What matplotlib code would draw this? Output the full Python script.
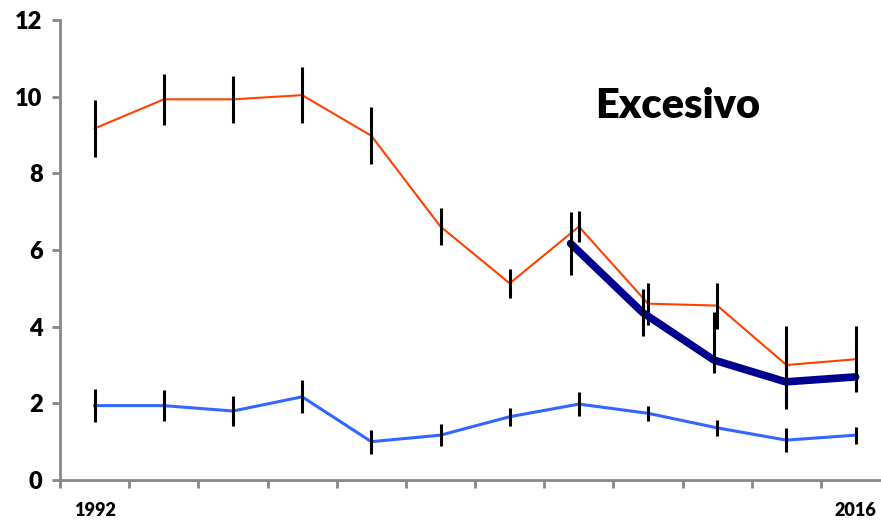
import numpy as np
import matplotlib.pyplot as plt
import matplotlib as mpl

mpl.rcParams['font.family'] = ['Lato', 'DejaVu Sans']

# Yearly series (12 survey points)
years = ['1992', '', '', '', '', '', '', '', '', '', '', '2016']

orange_vals = [9.17, 9.93, 9.93, 10.04, 8.98, 6.61, 5.13, 6.61, 4.60, 4.55, 3.00, 3.15]
orange_err = [0.74, 0.67, 0.62, 0.73, 0.74, 0.48, 0.38, 0.40, 0.55, 0.60, 1.02, 0.86]

blue_vals = [1.94, 1.94, 1.80, 2.17, 1.00, 1.17, 1.65, 1.98, 1.74, 1.36, 1.04, 1.17]
blue_err = [0.43, 0.40, 0.38, 0.43, 0.31, 0.28, 0.24, 0.31, 0.20, 0.20, 0.31, 0.22]

# Later series on its own positions along the category axis
navy_pos = [6.88, 7.92, 8.95, 9.99, 11.0]
navy_vals = [6.17, 4.37, 3.13, 2.56, 2.69]
navy_err_lo = [0.83, 0.62, 0.35, 0.70, 0.30]
navy_err_hi = [0.83, 0.62, 1.26, 0.70, 0.30]

x = np.arange(len(orange_vals))

fig = plt.figure(figsize=(8.81, 5.21), dpi=100)
ax = fig.add_axes([60 / 881, 41 / 521, 830.2 / 881, 460 / 521])

# Lines first, then their error bars on top
ax.plot(x, orange_vals, color='#FF4000', linewidth=1.5, zorder=2)
ax.errorbar(x, orange_vals, yerr=orange_err, fmt='none', ecolor='black',
            elinewidth=2.2, capsize=0, zorder=3)

ax.plot(x, blue_vals, color='#3366FF', linewidth=2.2, zorder=4)
ax.errorbar(x, blue_vals, yerr=blue_err, fmt='none', ecolor='black',
            elinewidth=2.2, capsize=0, zorder=5)

ax.plot(navy_pos, navy_vals, color='#000090', linewidth=5.5,
        solid_capstyle='round', zorder=6)
ax.errorbar(navy_pos, navy_vals, yerr=[navy_err_lo, navy_err_hi], fmt='none',
            ecolor='black', elinewidth=2.2, capsize=0, zorder=7)

ax.text(678 / 881, 1 - 106 / 521, 'Excesivo', transform=fig.transFigure,
        fontsize=30, fontweight='heavy', ha='center', va='center')

# Axes styling
ax.set_xlim(-0.5, 11.5)
ax.set_ylim(0, 12)
ax.set_yticks(range(0, 13, 2))
ax.set_xticks(x)
ax.set_xticklabels(years)
ax.set_xticks(np.arange(-0.5, 12, 1), minor=True)

for side in ['top', 'right']:
    ax.spines[side].set_visible(False)
for side in ['left', 'bottom']:
    ax.spines[side].set_color('#888888')
    ax.spines[side].set_linewidth(2)

ax.tick_params(axis='y', direction='out', length=5.5, width=2, color='#888888',
               pad=7, labelsize=17)
ax.tick_params(axis='x', which='major', length=0, pad=16, labelsize=13)
ax.tick_params(axis='x', which='minor', direction='out', length=6, width=2,
               color='#888888')
for lbl in ax.get_yticklabels() + ax.get_xticklabels():
    lbl.set_fontweight('heavy')

fig.savefig('out.png', dpi=100)
